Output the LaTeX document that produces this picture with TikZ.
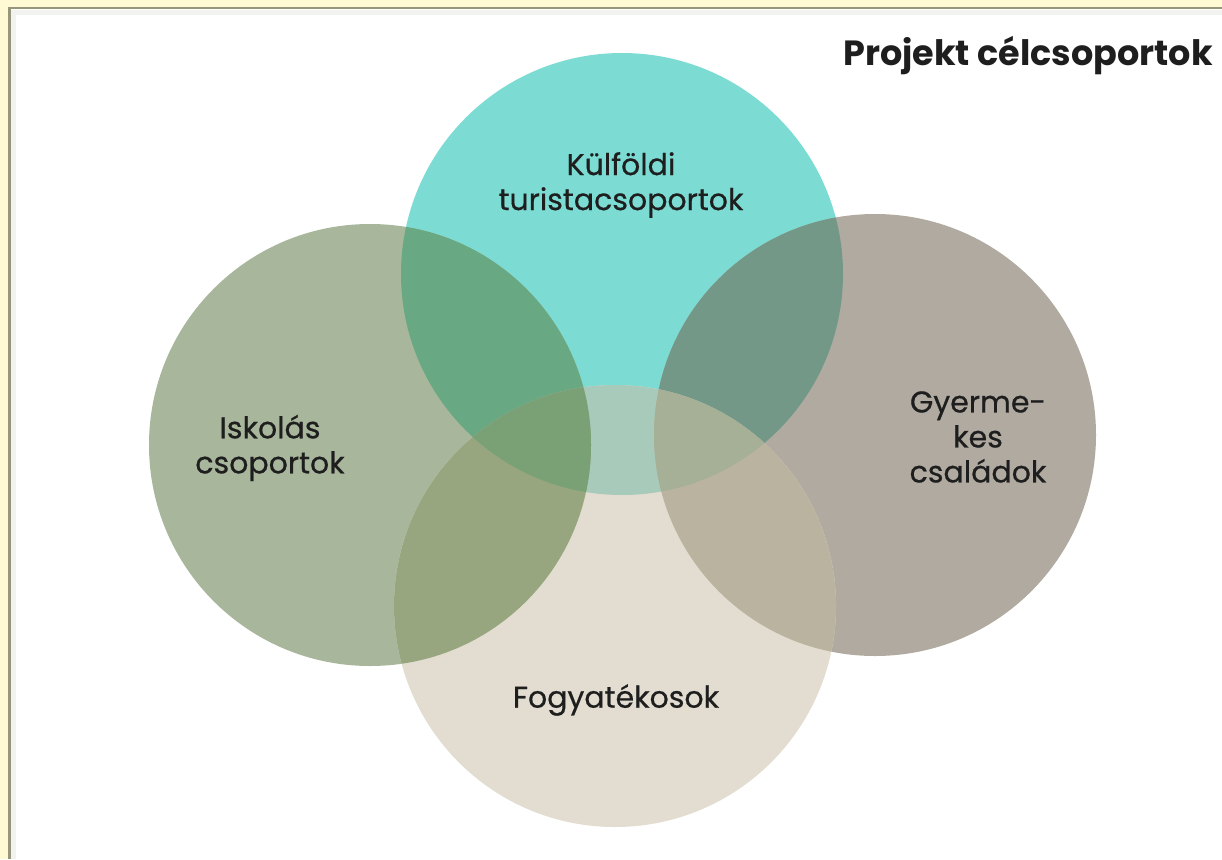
\documentclass[tikz,border=0pt]{standalone}
\usepackage{fontspec}
\setmainfont{Poppins}
\newfontfamily\lblfont[FakeBold=0.6]{Poppins}
\definecolor{bgyellow}{RGB}{255,249,212}
\definecolor{frameline}{RGB}{150,150,122}
\definecolor{shadowline}{RGB}{242,242,240}
\definecolor{colT}{RGB}{124,220,212}
\definecolor{colL}{RGB}{168,182,156}
\definecolor{colR}{RGB}{176,170,160}
\definecolor{colB}{RGB}{226,221,208}
\definecolor{colTL}{RGB}{104,168,130}
\definecolor{colTR}{RGB}{116,152,135}
\definecolor{colTB}{RGB}{168,202,186}
\definecolor{colLB}{RGB}{152,166,128}
\definecolor{colRB}{RGB}{186,179,160}
\definecolor{colTLB}{RGB}{122,160,118}
\definecolor{colTRB}{RGB}{165,176,150}
\definecolor{txt}{RGB}{30,30,30}
\newcommand\cirT{(622,274) circle[radius=221pt]}
\newcommand\cirL{(370,445) circle[radius=221pt]}
\newcommand\cirR{(875,435) circle[radius=221pt]}
\newcommand\cirB{(615,606) circle[radius=221pt]}
\tikzset{
  lbl/.style={text=txt, align=center, inner sep=0pt, font=\lblfont\fontsize{30}{35}\selectfont},
  ttl/.style={text=txt, inner sep=0pt, font=\bfseries\fontsize{35}{40}\selectfont}
}
\begin{document}
\begin{tikzpicture}[x=1pt,y=-1pt]
\useasboundingbox (0,0) rectangle (1222,859);
\fill[bgyellow] (0,0) rectangle (1222,859);
\fill[white] (9,8) rectangle (1222,859);
\draw[shadowline, line width=5pt] (13.5,859) -- (13.5,12.5) -- (1222,12.5);
\draw[frameline, line width=2.5pt] (9.25,859) -- (9.25,8.25) -- (1222,8.25);
% circles
\fill[colT] \cirT;
\fill[colL] \cirL;
\fill[colR] \cirR;
\fill[colB] \cirB;
\begin{scope}
  \clip \cirT;
  \fill[colTL] \cirL;
  \fill[colTR] \cirR;
  \fill[colTB] \cirB;
\end{scope}
\begin{scope}
  \clip \cirB;
  \fill[colLB] \cirL;
  \fill[colRB] \cirR;
\end{scope}
\begin{scope}
  \clip \cirT;
  \clip \cirB;
  \fill[colTLB] \cirL;
  \fill[colTRB] \cirR;
\end{scope}
% labels
\node[ttl, anchor=base east] (title) at (1213,66) {Projekt célcsoportok};
\node[lbl] (kulfoldi) at (621,185) {Külföldi\\turistacsoportok};
\node[lbl] (iskolas) at (270,448) {Iskolás\\csoportok};
\node[lbl] (gyermekes) at (978,437) {Gyerme-\\kes\\családok};
\node[lbl] (fogyatekosok) at (616,700) {Fogyatékosok};
\end{tikzpicture}
\end{document}
